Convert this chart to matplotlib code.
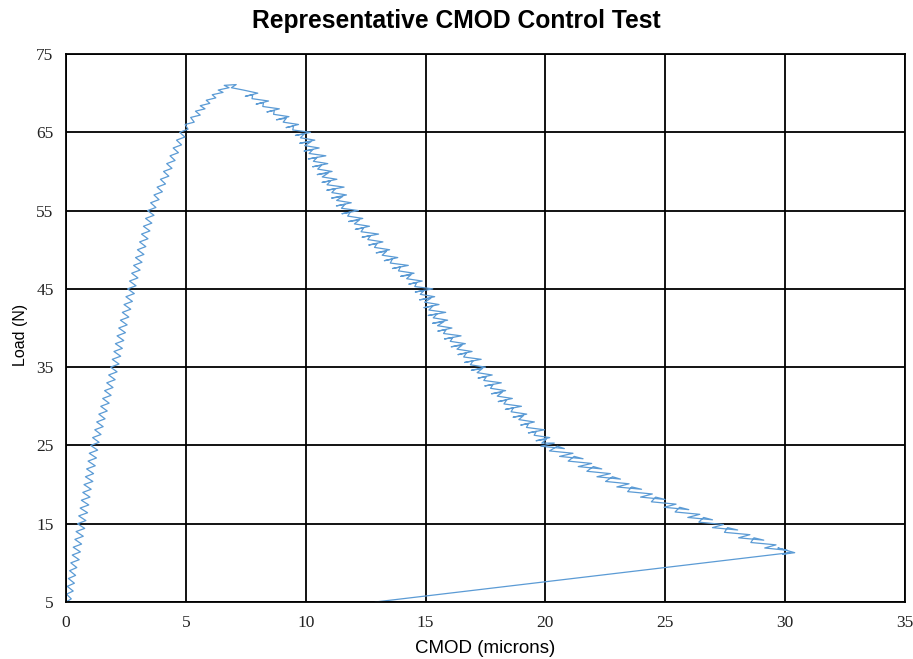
import matplotlib
matplotlib.use("Agg")
import matplotlib.pyplot as plt

# loading branch: CMOD (microns) and load (N)
rise_cmod = [
    0.0, 0.22, 0.02, 0.3, 0.05, 0.35, 0.1, 0.4, 0.15, 0.45,
    0.2, 0.55, 0.26, 0.6, 0.3, 0.65, 0.37, 0.72, 0.42, 0.78,
    0.48, 0.83, 0.53, 0.9, 0.59, 0.95, 0.64, 1.0, 0.7, 1.05,
    0.75, 1.12, 0.81, 1.15, 0.86, 1.22, 0.92, 1.27, 0.97, 1.32,
    1.03, 1.38, 1.11, 1.46, 1.2, 1.55, 1.28, 1.63, 1.37, 1.72,
    1.45, 1.8, 1.53, 1.88, 1.61, 1.96, 1.7, 2.05, 1.78, 2.13,
    1.86, 2.21, 1.93, 2.28, 2.0, 2.35, 2.06, 2.41, 2.13, 2.48,
    2.2, 2.55, 2.27, 2.62, 2.35, 2.7, 2.42, 2.77, 2.5, 2.85,
    2.57, 2.92, 2.65, 3.0, 2.74, 3.09, 2.82, 3.17, 2.9, 3.25,
    2.98, 3.33, 3.07, 3.42, 3.15, 3.5, 3.23, 3.58, 3.32, 3.67,
    3.4, 3.75, 3.53, 3.88, 3.67, 4.02, 3.8, 4.15, 3.94, 4.29,
    4.07, 4.42, 4.2, 4.55, 4.34, 4.69, 4.47, 4.82, 4.61, 4.96,
    4.74, 5.09, 4.97, 5.35, 5.2, 5.6, 5.4, 5.8, 5.6, 6.0,
    5.85, 6.25, 6.1, 6.55, 6.35, 6.8, 6.6, 7.1, 6.9, 7.4,
]
rise_load = [
    5.0, 5.4, 6.0, 6.4, 7.0, 7.4, 8.0, 8.4, 9.0, 9.4,
    10.0, 10.4, 11.0, 11.4, 12.0, 12.4, 13.0, 13.4, 14.0, 14.4,
    15.0, 15.4, 16.0, 16.4, 17.0, 17.4, 18.0, 18.4, 19.0, 19.4,
    20.0, 20.4, 21.0, 21.4, 22.0, 22.4, 23.0, 23.4, 24.0, 24.4,
    25.0, 25.4, 26.0, 26.4, 27.0, 27.4, 28.0, 28.4, 29.0, 29.4,
    30.0, 30.4, 31.0, 31.4, 32.0, 32.4, 33.0, 33.4, 34.0, 34.4,
    35.0, 35.4, 36.0, 36.4, 37.0, 37.4, 38.0, 38.4, 39.0, 39.4,
    40.0, 40.4, 41.0, 41.4, 42.0, 42.4, 43.0, 43.4, 44.0, 44.4,
    45.0, 45.4, 46.0, 46.4, 47.0, 47.4, 48.0, 48.4, 49.0, 49.4,
    50.0, 50.4, 51.0, 51.4, 52.0, 52.4, 53.0, 53.4, 54.0, 54.4,
    55.0, 55.4, 56.0, 56.4, 57.0, 57.4, 58.0, 58.4, 59.0, 59.4,
    60.0, 60.4, 61.0, 61.4, 62.0, 62.4, 63.0, 63.4, 64.0, 64.4,
    65.0, 65.4, 66.0, 66.3, 66.9, 67.2, 67.7, 68.0, 68.4, 68.7,
    69.1, 69.4, 69.8, 70.1, 70.4, 70.7, 71.0, 71.1, 70.7, 70.4,
]

# softening branch after the peak, four readings per 1 N step
fall_cmod = [
    8.0, 7.48, 7.79, 7.76,
    8.45, 7.93, 8.24, 8.21,
    8.9, 8.38, 8.69, 8.66,
    9.3, 8.78, 9.19, 9.06,
    9.7, 9.18, 9.49, 9.46,
    10.2, 9.57, 9.94, 9.78,
    10.38, 9.75, 10.22, 9.96,
    10.56, 9.93, 10.3, 10.14,
    10.84, 10.11, 10.48, 10.32,
    10.92, 10.29, 10.66, 10.5,
    11.1, 10.48, 10.94, 10.69,
    11.3, 10.68, 11.04, 10.89,
    11.6, 10.88, 11.24, 11.09,
    11.7, 11.08, 11.54, 11.29,
    11.9, 11.28, 11.64, 11.49,
    12.2, 11.51, 11.86, 11.75,
    12.38, 11.79, 12.24, 12.03,
    12.66, 12.07, 12.42, 12.31,
    13.04, 12.35, 12.7, 12.59,
    13.22, 12.63, 12.98, 12.87,
    13.5, 12.94, 13.37, 13.19,
    13.84, 13.28, 13.61, 13.53,
    14.28, 13.62, 13.95, 13.87,
    14.52, 13.96, 14.39, 14.21,
    14.86, 14.3, 14.63, 14.55,
    15.3, 14.57, 14.94, 14.78,
    15.38, 14.75, 15.22, 14.96,
    15.56, 14.93, 15.3, 15.14,
    15.84, 15.11, 15.48, 15.32,
    15.92, 15.29, 15.76, 15.5,
    16.1, 15.51, 15.86, 15.75,
    16.48, 15.79, 16.14, 16.03,
    16.66, 16.07, 16.52, 16.31,
    16.94, 16.35, 16.7, 16.59,
    17.32, 16.63, 16.98, 16.87,
    17.5, 16.91, 17.36, 17.15,
    17.78, 17.19, 17.54, 17.43,
    18.16, 17.47, 17.82, 17.71,
    18.34, 17.75, 18.2, 17.99,
    18.62, 18.03, 18.38, 18.27,
    19.0, 18.33, 18.66, 18.57,
    19.22, 18.65, 19.08, 18.89,
    19.54, 18.97, 19.3, 19.21,
    19.96, 19.29, 19.62, 19.53,
    20.18, 19.61, 20.04, 19.85,
    20.37, 19.81, 20.79, 20.5, 20.17,
    21.15, 20.59, 21.57, 21.2, 20.95,
    21.93, 21.37, 22.35, 22.0, 21.73,
    22.71, 22.15, 23.13, 22.8, 22.51,
    23.49, 22.98, 24.01, 23.6, 23.43,
    24.46, 23.97, 24.99, 24.6, 24.42,
    25.45, 24.95, 25.98, 25.6, 25.41,
    26.44, 25.94, 26.97, 26.6, 26.4,
    27.43, 26.97, 28.02, 27.6, 27.47,
    28.53, 28.06, 29.11, 28.7, 28.57,
    29.62, 29.15, 30.1, 29.7,
    30.4, 29.9, 30.2,
]
fall_load = [
    70.0, 69.6, 69.8, 69.3,
    69.0, 68.6, 68.8, 68.3,
    68.0, 67.6, 67.8, 67.3,
    67.0, 66.6, 66.8, 66.3,
    66.0, 65.6, 65.8, 65.3,
    65.0, 64.6, 64.8, 64.3,
    64.0, 63.6, 63.8, 63.3,
    63.0, 62.6, 62.8, 62.3,
    62.0, 61.6, 61.8, 61.3,
    61.0, 60.6, 60.8, 60.3,
    60.0, 59.6, 59.8, 59.3,
    59.0, 58.6, 58.8, 58.3,
    58.0, 57.6, 57.8, 57.3,
    57.0, 56.6, 56.8, 56.3,
    56.0, 55.6, 55.8, 55.3,
    55.0, 54.6, 54.8, 54.3,
    54.0, 53.6, 53.8, 53.3,
    53.0, 52.6, 52.8, 52.3,
    52.0, 51.6, 51.8, 51.3,
    51.0, 50.6, 50.8, 50.3,
    50.0, 49.6, 49.8, 49.3,
    49.0, 48.6, 48.8, 48.3,
    48.0, 47.6, 47.8, 47.3,
    47.0, 46.6, 46.8, 46.3,
    46.0, 45.6, 45.8, 45.3,
    45.0, 44.6, 44.8, 44.3,
    44.0, 43.6, 43.8, 43.3,
    43.0, 42.6, 42.8, 42.3,
    42.0, 41.6, 41.8, 41.3,
    41.0, 40.6, 40.8, 40.3,
    40.0, 39.6, 39.8, 39.3,
    39.0, 38.6, 38.8, 38.3,
    38.0, 37.6, 37.8, 37.3,
    37.0, 36.6, 36.8, 36.3,
    36.0, 35.6, 35.8, 35.3,
    35.0, 34.6, 34.8, 34.3,
    34.0, 33.6, 33.8, 33.3,
    33.0, 32.6, 32.8, 32.3,
    32.0, 31.6, 31.8, 31.3,
    31.0, 30.6, 30.8, 30.3,
    30.0, 29.6, 29.8, 29.3,
    29.0, 28.6, 28.8, 28.3,
    28.0, 27.6, 27.8, 27.3,
    27.0, 26.6, 26.8, 26.3,
    26.0, 25.6, 25.8, 25.3,
    25.3, 24.9, 24.6, 24.9, 24.3,
    24.0, 23.6, 23.3, 23.6, 23.0,
    22.7, 22.3, 22.0, 22.3, 21.7,
    21.4, 21.0, 20.7, 21.0, 20.4,
    20.1, 19.7, 19.4, 19.7, 19.1,
    18.8, 18.4, 18.1, 18.4, 17.8,
    17.5, 17.1, 16.8, 17.1, 16.5,
    16.2, 15.8, 15.5, 15.8, 15.2,
    14.9, 14.5, 14.2, 14.5, 13.9,
    13.6, 13.2, 12.9, 13.2, 12.6,
    12.3, 11.9, 11.6, 11.9,
    11.3, 11.1, 11.3,
]

# unloading line back to the bottom of the axis
unload_cmod = [12.9]
unload_load = [5.0]

cmod = rise_cmod + fall_cmod + unload_cmod
load = rise_load + fall_load + unload_load

x_ticks = [0, 5, 10, 15, 20, 25, 30, 35]
y_ticks = [5, 15, 25, 35, 45, 55, 65, 75]

fig = plt.figure(figsize=(9.13, 6.59), dpi=100)
ax = fig.add_axes([0.0723, 0.0865, 0.9189, 0.8315])

ax.plot(cmod, load, color='#5b9bd5', lw=0.9)

ax.set_xlim(0, 35)
ax.set_ylim(5, 75)
ax.set_xticks(x_ticks)
ax.set_yticks(y_ticks)
ax.grid(True, color='black', lw=1.3)
ax.set_axisbelow(True)
for s in ax.spines.values():
    s.set_color('black')
    s.set_linewidth(1.3)
ax.tick_params(length=0, labelsize=12.5)
ax.tick_params(axis='x', pad=9.5)
ax.tick_params(axis='y', pad=9)
for lab in ax.get_xticklabels() + ax.get_yticklabels():
    lab.set_family(['Liberation Serif', 'DejaVu Serif'])
    lab.set_color('#222222')

ax.set_xlabel('CMOD (microns)', family=['Liberation Sans', 'DejaVu Sans'], fontsize=13.5)
ax.xaxis.label.set_va('center')
ax.xaxis.set_label_coords(0.5, -0.084)
ax.set_ylabel('Load (N)', family=['Liberation Sans', 'DejaVu Sans'], fontsize=11.5)
ax.yaxis.label.set_va('center')
ax.yaxis.set_label_coords(-0.054, 0.487)
fig.text(0.5, 0.968, 'Representative CMOD Control Test', ha='center', va='center',
         family=['Liberation Sans Narrow', 'Liberation Sans', 'DejaVu Sans'],
         fontweight='bold', fontsize=17.7)

fig.savefig('out.png', dpi=100)
